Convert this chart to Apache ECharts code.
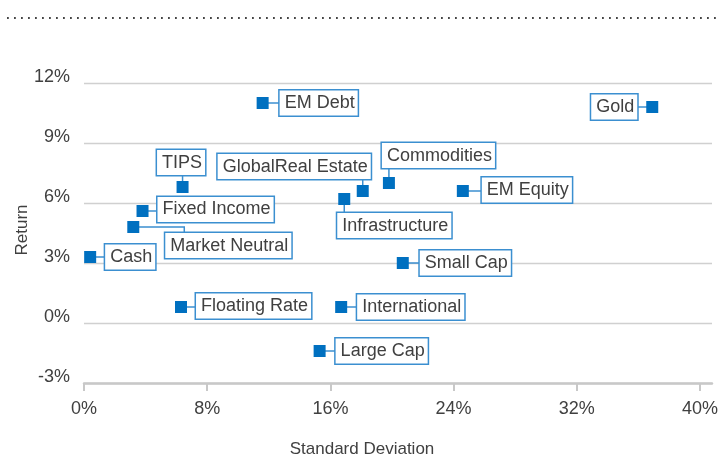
<!DOCTYPE html>
<html>
<head>
    <meta charset="utf-8">
    <title>Risk vs Return</title>
    <script src="https://cdn.jsdelivr.net/npm/echarts@6.0.0/dist/echarts.min.js"></script>
    <style>
        body { margin: 0; padding: 0; background: #fff; }
        #chart { width: 721px; height: 457px; }
    </style>
</head>
<body>
    <div id="chart"></div>
    <script>
        // asset classes, standard deviation (%) and return (%)
        const names = ['Cash', 'Floating Rate', 'Large Cap', 'International', 'Small Cap', 'Gold',
            'EM Equity', 'Commodities', 'GlobalReal Estate', 'Infrastructure', 'EM Debt', 'TIPS',
            'Fixed Income', 'Market Neutral'];
        const stdDev = [0.4, 6.3, 15.3, 16.7, 20.7, 36.9, 24.6, 19.8, 18.1, 16.9, 11.6, 6.4, 3.8, 3.2];
        const returns = [3.3, 0.8, -1.4, 0.8, 3.0, 10.8, 6.6, 7.0, 6.6, 6.2, 11.0, 6.8, 5.6, 4.8];
        const xTicks = [0, 8, 16, 24, 32, 40];

        // where each label box sits relative to its marker (px): align, vAlign, dx, dy, leader, elbowX
        const labelPlace = [
            ['left', 'middle', 15, 0, 'h'],
            ['left', 'middle', 15, -1, 'h'],
            ['left', 'middle', 16, 0, 'h'],
            ['left', 'middle', 16, 0, 'h'],
            ['left', 'middle', 17, 0, 'h'],
            ['right', 'middle', -15, 0, 'h'],
            ['left', 'middle', 19, -1, 'h'],
            ['left', 'bottom', -7, -15, 'v'],
            ['right', 'bottom', 8, -12, 'v'],
            ['left', 'top', -7, 14, 'v'],
            ['left', 'middle', 17, 0, 'h'],
            ['center', 'bottom', -1.5, -12, 'v'],
            ['left', 'middle', 15, -1.5, 'h'],
            ['left', 'top', 32, 6, 'elbow', 51]
        ];

        const blue = '#0070c0';
        const boxBlue = '#3b8fd0';
        const textColor = '#404040';
        const fontFamily = '"Liberation Sans", Arial, sans-serif';

        const chart = echarts.init(document.getElementById('chart'));

        function renderItem(params, api) {
            const i = api.value(2);
            const p = api.coord([api.value(0), api.value(1)]);
            const [align, vAlign, dx, dy, leader, ex] = labelPlace[i];
            let pts;
            if (leader === 'h') pts = [[p[0], p[1]], [p[0] + dx, p[1]]];
            else if (leader === 'v') pts = [[p[0], p[1]], [p[0], p[1] + dy]];
            else pts = [[p[0], p[1]], [p[0] + ex, p[1]], [p[0] + ex, p[1] + dy]];
            return {
                type: 'group',
                children: [
                    {
                        type: 'polyline',
                        shape: { points: pts },
                        style: { stroke: boxBlue, lineWidth: 1.5, fill: null }
                    },
                    {
                        type: 'text',
                        style: {
                            x: p[0] + dx, y: p[1] + dy,
                            text: names[i],
                            font: '18px ' + fontFamily, fill: textColor,
                            lineHeight: 18,
                            align: align, verticalAlign: vAlign,
                            backgroundColor: '#fff',
                            borderColor: boxBlue, borderWidth: 1.5,
                            padding: [4, 3, 3, 5]
                        }
                    },
                    {
                        type: 'rect',
                        shape: { x: p[0] - 6, y: p[1] - 6, width: 12, height: 12 },
                        style: { fill: blue }
                    }
                ]
            };
        }

        const option = {
            animation: false,
            grid: { left: 84, right: 6, top: 83, bottom: 74 },
            xAxis: {
                type: 'value', min: 0, max: 40.78,
                axisLine: { show: true, onZero: false, lineStyle: { color: '#c8c8c8', width: 2.5 } },
                axisTick: { show: true, customValues: xTicks, length: 8, lineStyle: { color: '#c8c8c8', width: 2 } },
                axisLabel: {
                    customValues: xTicks, margin: 17,
                    formatter: v => v + '%',
                    color: textColor, fontSize: 18, fontFamily: fontFamily
                },
                splitLine: { show: false }
            },
            yAxis: {
                type: 'value', min: -3, max: 12, interval: 3,
                axisLine: { show: false },
                axisTick: { show: false },
                axisLabel: {
                    margin: 14, verticalAlign: 'bottom', lineHeight: 11,
                    formatter: v => v + '%',
                    color: textColor, fontSize: 18, fontFamily: fontFamily
                },
                splitLine: { lineStyle: { color: '#d0d0d0', width: 1.3 } }
            },
            graphic: [
                {
                    type: 'line',
                    shape: { x1: 7, y1: 18, x2: 721, y2: 18 },
                    style: { stroke: '#444', lineWidth: 1.8, lineDash: [1.8, 5.2] }
                },
                {
                    type: 'text', x: 362, y: 449,
                    style: { text: 'Standard Deviation', font: '17px ' + fontFamily, fill: textColor, align: 'center', verticalAlign: 'middle' }
                },
                {
                    type: 'text', x: 22, y: 230, rotation: Math.PI / 2,
                    style: { text: 'Return', font: '17px ' + fontFamily, fill: textColor, align: 'center', verticalAlign: 'middle' }
                }
            ],
            series: [{
                type: 'custom',
                renderItem: renderItem,
                encode: { x: 0, y: 1 },
                data: names.map((n, i) => [stdDev[i], returns[i], i])
            }]
        };
        chart.setOption(option);
    </script>
</body>
</html>
